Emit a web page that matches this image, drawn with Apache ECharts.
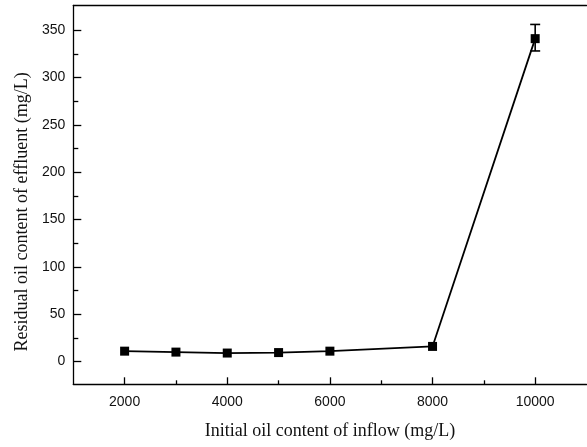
<!DOCTYPE html>
<html>
<head>
<meta charset="utf-8">
<script src="https://cdn.jsdelivr.net/npm/echarts@6/dist/echarts.min.js"></script>
<style>html,body{margin:0;padding:0;background:#fff;}#c{width:587px;height:447px;}</style>
</head>
<body>
<div id="c"></div>
<script>
var inflow = [2000, 3000, 4000, 5000, 6000, 8000, 10000];
var residual = [11, 10, 9, 9.5, 11, 16, 341];
var errLow = [null, null, null, null, null, null, 328];
var errHigh = [null, null, null, null, null, null, 356];
var xMajorTicks = [2000, 4000, 6000, 8000, 10000];
var xMinorTicks = [3000, 5000, 7000, 9000];
var yMajorTicks = [0, 50, 100, 150, 200, 250, 300, 350];
var yMinorTicks = [25, 75, 125, 175, 225, 275, 325];
var xTitle = 'Initial oil content of inflow (mg/L)';
var yTitle = 'Residual oil content of effluent (mg/L)';

var chart = echarts.init(document.getElementById('c'), null, {renderer: 'canvas'});
var lineStyle = {color: '#000', width: 1.3};
var labelFont = {color: '#111', fontFamily: 'Liberation Sans', fontSize: 14};
var titleFont = {color: '#111', fontFamily: 'Liberation Serif', fontSize: 18};
var plainNum = function (v) { return String(v); };

var xBase = {type: 'value', min: 1000, max: 11000, gridIndex: 0, splitLine: {show: false}};
var yBase = {type: 'value', min: -24, max: 376, gridIndex: 0, splitLine: {show: false}};

var errData = [];
for (var i = 0; i < inflow.length; i++) {
  if (errLow[i] != null) errData.push([inflow[i], errLow[i], errHigh[i]]);
}

chart.setOption({
  animation: false,
  backgroundColor: '#fff',
  grid: {left: 73.3, top: 5.5, width: 513.2, height: 378.8, containLabel: false},
  xAxis: [
    Object.assign({}, xBase, {
      position: 'bottom',
      name: xTitle, nameLocation: 'middle', nameGap: 38, nameTextStyle: titleFont,
      axisLine: {show: true, onZero: false, lineStyle: lineStyle},
      axisTick: {show: true, inside: true, length: 7, lineStyle: lineStyle, customValues: xMajorTicks},
      axisLabel: Object.assign({show: true, margin: 11, customValues: xMajorTicks, formatter: plainNum}, labelFont)
    }),
    Object.assign({}, xBase, {
      position: 'bottom',
      axisLine: {show: false, onZero: false},
      axisTick: {show: true, inside: true, length: 4, lineStyle: lineStyle, customValues: xMinorTicks},
      axisLabel: {show: false}
    }),
    Object.assign({}, xBase, {
      position: 'top',
      axisLine: {show: true, onZero: false, lineStyle: lineStyle},
      axisTick: {show: false},
      axisLabel: {show: false}
    })
  ],
  yAxis: [
    Object.assign({}, yBase, {
      position: 'left',
      name: yTitle, nameLocation: 'middle', nameGap: 34, nameRotate: 90,
      nameTextStyle: Object.assign({padding: [0, 34, 0, 0]}, titleFont),
      axisLine: {show: true, onZero: false, lineStyle: lineStyle},
      axisTick: {show: true, inside: true, length: 8, lineStyle: lineStyle, customValues: yMajorTicks},
      axisLabel: Object.assign({show: true, margin: 8, customValues: yMajorTicks, formatter: plainNum}, labelFont)
    }),
    Object.assign({}, yBase, {
      position: 'left',
      axisLine: {show: false, onZero: false},
      axisTick: {show: true, inside: true, length: 5, lineStyle: lineStyle, customValues: yMinorTicks},
      axisLabel: {show: false}
    })
  ],
  series: [
    {
      type: 'line',
      xAxisIndex: 0, yAxisIndex: 0,
      data: inflow.map(function (x, i) { return [x, residual[i]]; }),
      symbol: 'rect', symbolSize: 9,
      itemStyle: {color: '#000'},
      lineStyle: {color: '#000', width: 1.8},
      z: 3
    },
    {
      type: 'custom',
      xAxisIndex: 0, yAxisIndex: 0,
      data: errData,
      renderItem: function (params, api) {
        var x = api.value(0);
        var lo = api.coord([x, api.value(1)]);
        var hi = api.coord([x, api.value(2)]);
        var hw = 5;
        var st = {stroke: '#000', lineWidth: 1.6};
        return {
          type: 'group',
          children: [
            {type: 'line', shape: {x1: lo[0], y1: lo[1], x2: hi[0], y2: hi[1]}, style: st},
            {type: 'line', shape: {x1: lo[0] - hw, y1: lo[1], x2: lo[0] + hw, y2: lo[1]}, style: st},
            {type: 'line', shape: {x1: hi[0] - hw, y1: hi[1], x2: hi[0] + hw, y2: hi[1]}, style: st}
          ]
        };
      },
      z: 2
    }
  ]
});
</script>
</body>
</html>
